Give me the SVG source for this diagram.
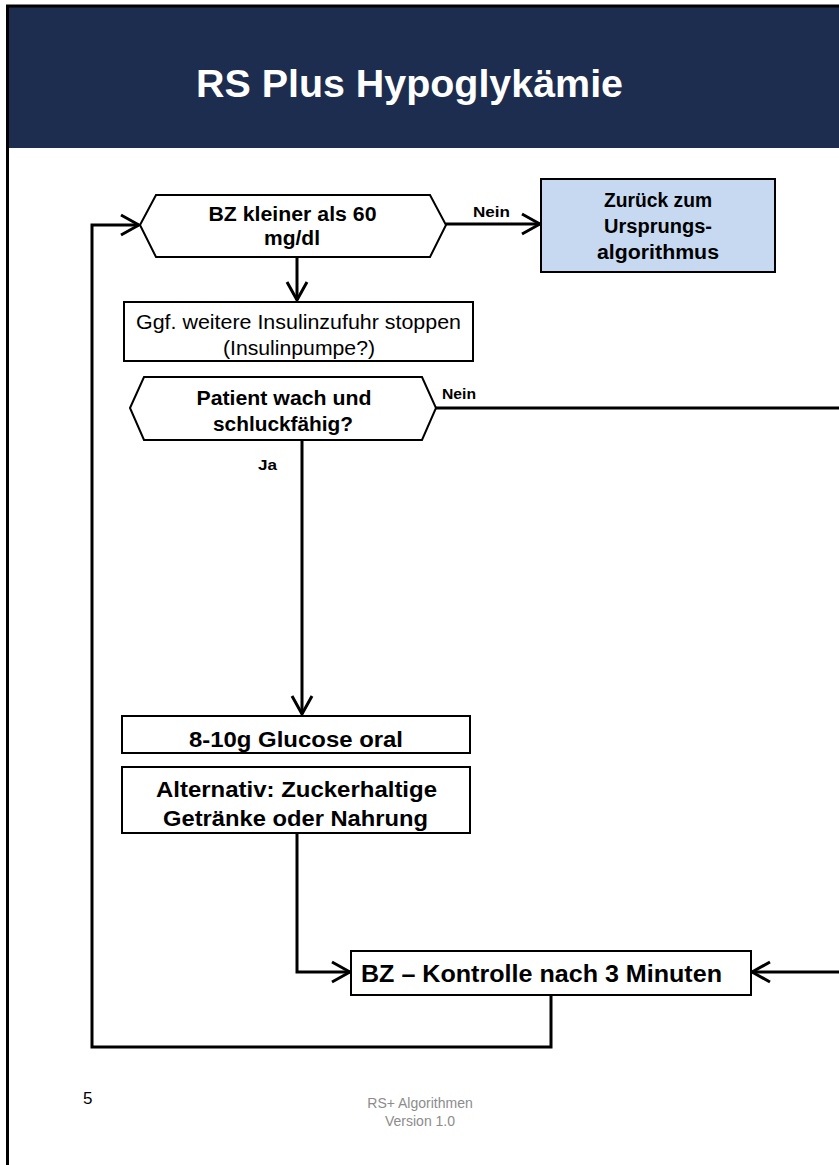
<svg xmlns="http://www.w3.org/2000/svg" width="839" height="1165" viewBox="0 0 839 1165">
  <style>
    .node { fill: #ffffff; stroke: #000000; stroke-width: 2; }
    .blue { fill: #c6d9f1; stroke: #000000; stroke-width: 2; }
    .conn { fill: none; stroke: #000000; stroke-width: 3; }
    .b { font-family: "Liberation Sans", Arial, sans-serif; font-weight: bold; fill: #000000; text-anchor: middle; }
    .r { font-family: "Liberation Sans", Arial, sans-serif; fill: #000000; text-anchor: middle; }
    .lbl { font-family: "Liberation Sans", Arial, sans-serif; font-weight: bold; font-size: 15px; fill: #000000; }
    .foot { font-family: "Liberation Sans", Arial, sans-serif; font-size: 14px; fill: #8c8c8c; text-anchor: middle; }
  </style>
  <defs>
    <marker id="arrow" viewBox="0 0 22 24" refX="20" refY="12" markerWidth="22" markerHeight="24" markerUnits="userSpaceOnUse" orient="auto">
      <path d="M2,2 L20,12 L2,22" fill="none" stroke="#000000" stroke-width="3"/>
    </marker>
  </defs>

  <rect x="0" y="0" width="839" height="1165" fill="#ffffff"/>
  <g id="frame">
    <rect x="8" y="7" width="831" height="141" fill="#1c2d4f"/>
    <path d="M7.5,1165 V6 H839" fill="none" stroke="#000000" stroke-width="3"/>
  </g>
  <g id="title">
    <text x="409.5" y="97" class="b" font-size="38" style="fill:#ffffff" textLength="427" lengthAdjust="spacingAndGlyphs">RS Plus Hypoglykämie</text>
  </g>

  <g id="connectors">
    <path class="conn" d="M446,224 H540" marker-end="url(#arrow)"/>
    <path class="conn" d="M297,257 V300" marker-end="url(#arrow)"/>
    <path class="conn" d="M436,408 H850 V972 H752" marker-end="url(#arrow)"/>
    <path class="conn" d="M302,440 V714" marker-end="url(#arrow)"/>
    <path class="conn" d="M297,833 V972 H350" marker-end="url(#arrow)"/>
    <path class="conn" d="M551,995 V1047 H92 V225 H139" marker-end="url(#arrow)"/>
    <text class="lbl" x="473" y="217" textLength="37" lengthAdjust="spacingAndGlyphs">Nein</text>
    <text class="lbl" x="442" y="399" textLength="34" lengthAdjust="spacingAndGlyphs">Nein</text>
    <text class="lbl" x="258" y="470" textLength="19" lengthAdjust="spacingAndGlyphs">Ja</text>
  </g>

  <g id="n-bz60">
    <polygon class="node" points="140,225 156,195 430,195 446,225 430,257 156,257"/>
    <text class="b" x="292.5" y="221" font-size="19.5" textLength="168" lengthAdjust="spacingAndGlyphs">BZ kleiner als 60</text>
    <text class="b" x="292" y="245" font-size="19.5" textLength="56" lengthAdjust="spacingAndGlyphs">mg/dl</text>
  </g>

  <g id="n-zurueck">
    <rect class="blue" x="541" y="179" width="234" height="93"/>
    <text class="b" x="658" y="207" font-size="19.5" textLength="108" lengthAdjust="spacingAndGlyphs">Zurück zum</text>
    <text class="b" x="658" y="233" font-size="19.5" textLength="108" lengthAdjust="spacingAndGlyphs">Ursprungs-</text>
    <text class="b" x="658" y="259" font-size="19.5" textLength="122" lengthAdjust="spacingAndGlyphs">algorithmus</text>
  </g>

  <g id="n-insulin">
    <rect class="node" x="124" y="302" width="349" height="59"/>
    <text class="r" x="298.5" y="329" font-size="21" textLength="325" lengthAdjust="spacingAndGlyphs">Ggf. weitere Insulinzufuhr stoppen</text>
    <text class="r" x="299" y="355" font-size="21" textLength="152" lengthAdjust="spacingAndGlyphs">(Insulinpumpe?)</text>
  </g>

  <g id="n-wach">
    <polygon class="node" points="130,408 144,377 422,377 436,408 422,440 144,440"/>
    <text class="b" x="284" y="405" font-size="19.5" textLength="175" lengthAdjust="spacingAndGlyphs">Patient wach und</text>
    <text class="b" x="283" y="431" font-size="19.5" textLength="140" lengthAdjust="spacingAndGlyphs">schluckfähig?</text>
  </g>

  <g id="n-glucose">
    <rect class="node" x="122" y="716" width="348" height="37"/>
    <text class="b" x="296" y="747" font-size="22" textLength="214" lengthAdjust="spacingAndGlyphs">8-10g Glucose oral</text>
  </g>

  <g id="n-alternativ">
    <rect class="node" x="122" y="767" width="348" height="66"/>
    <text class="b" x="296.5" y="797" font-size="22" textLength="281" lengthAdjust="spacingAndGlyphs">Alternativ: Zuckerhaltige</text>
    <text class="b" x="295.5" y="826" font-size="22" textLength="265" lengthAdjust="spacingAndGlyphs">Getränke oder Nahrung</text>
  </g>

  <g id="n-kontrolle">
    <rect class="node" x="351" y="951" width="400" height="44"/>
    <text class="b" x="541.5" y="982" font-size="23" textLength="361" lengthAdjust="spacingAndGlyphs">BZ – Kontrolle nach 3 Minuten</text>
  </g>

  <g id="footer">
    <text x="83" y="1104" font-family="'Liberation Sans', Arial, sans-serif" font-size="17" fill="#000000">5</text>
    <text class="foot" x="420" y="1108">RS+ Algorithmen</text>
    <text class="foot" x="420" y="1126">Version 1.0</text>
  </g>
</svg>
